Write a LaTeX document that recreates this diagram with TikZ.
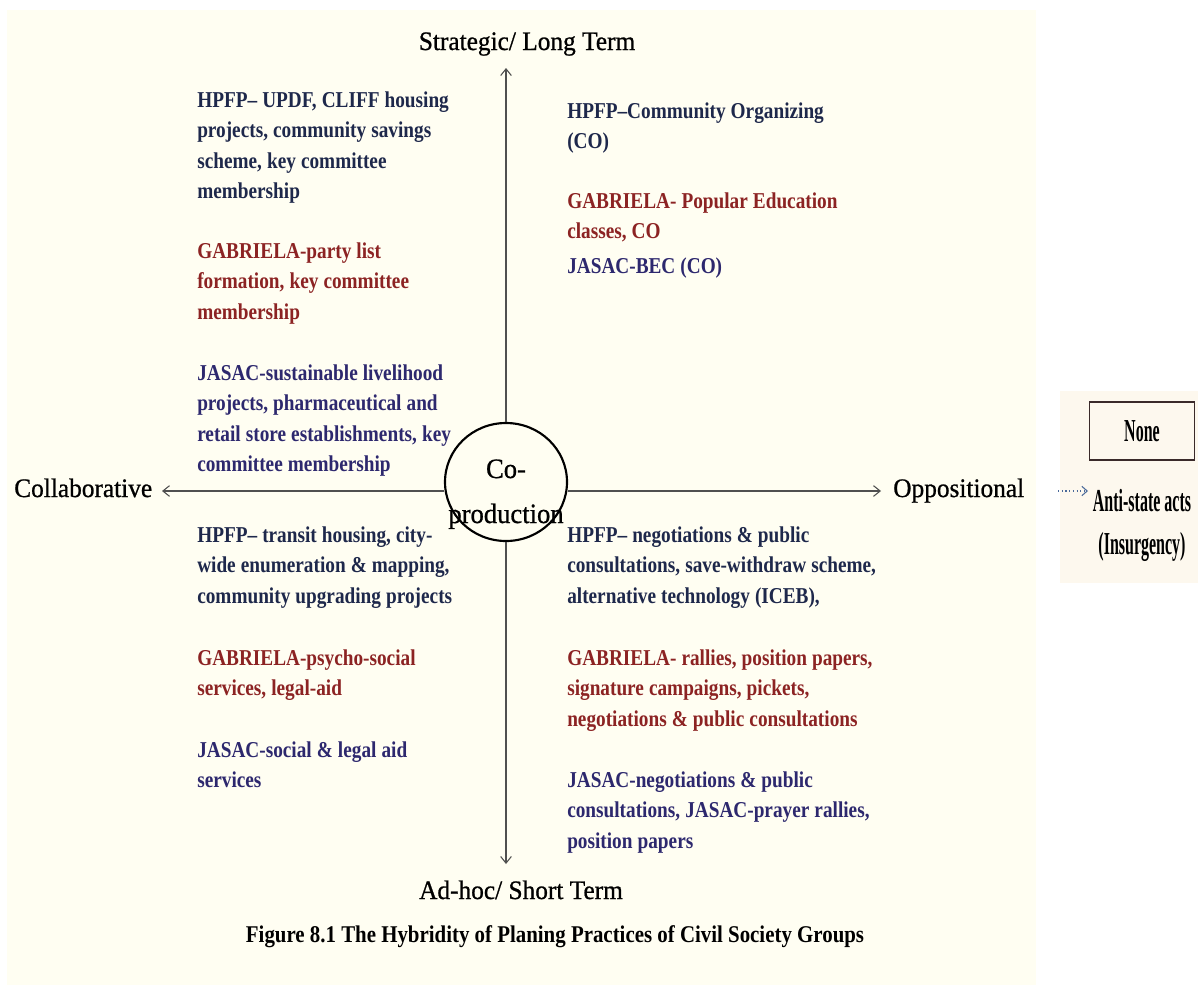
\documentclass[tikz,border=0pt]{standalone}
\usepackage{fontspec}
\setmainfont{Liberation Serif}
\newfontfamily\bodyfont[FakeStretch=0.85]{Liberation Serif}
\newfontfamily\axisfont[FakeStretch=0.95,FakeBold=0.8]{Liberation Serif}
\newfontfamily\capfont[FakeStretch=0.87]{Liberation Serif}
\newfontfamily\narrowfont[FakeStretch=0.5]{Liberation Serif}
\DeclareRobustCommand\tightsp{\spaceskip=3.8pt plus 1pt\relax\xspaceskip=4.2pt\relax}
\DeclareRobustCommand\narrowsp{\spaceskip=3pt\relax\xspaceskip=3pt\relax}
\usetikzlibrary{shapes.geometric,arrows.meta}
\definecolor{cream}{HTML}{FFFEF2}
\definecolor{creamb}{HTML}{FDF8EE}
\definecolor{hpfp}{HTML}{1E284B}
\definecolor{gab}{HTML}{8C2323}
\definecolor{jas}{HTML}{2D286E}
\definecolor{axisgray}{HTML}{505050}
\definecolor{dotblue}{HTML}{4A6A9A}
\definecolor{boxline}{HTML}{3A2A2A}
\begin{document}
\begin{tikzpicture}[x=0.75pt,y=-0.75pt,
  blk/.style={anchor=base west, inner sep=0pt, align=flush left, text width=260pt,
    font=\bodyfont\bfseries\fontsize{17}{22.9}\selectfont\tightsp},
  axlbl/.style={inner sep=0pt, font=\axisfont\fontsize{20}{24}\selectfont},
  axisline/.style={draw=axisgray, line width=0.8pt, -{Straight Barb[length=5pt,width=8pt]}},
  narrowtxt/.style={font=\narrowfont\bfseries\fontsize{24}{32.25}\selectfont\narrowsp}]
\useasboundingbox (0,0) rectangle (1198,985);
\fill[cream] (7,10) rectangle (1036,985);
\fill[creamb] (1060,391) rectangle (1198,583);

% centre
\node[ellipse, draw=black, line width=1.6pt, minimum width=91.5pt, minimum height=88.5pt, inner sep=0pt] (cop) at (506,482) {};
\node[font=\axisfont\fontsize{21}{33.75}\selectfont, align=flush center, text width=100pt, anchor=base, inner sep=0pt] (coptext) at (506,478) {Co-\\production};

% axes
\coordinate (topend) at (506,68);
\coordinate (botend) at (506,864);
\coordinate (leftend) at (162,491);
\coordinate (rightend) at (881,491);
\draw[axisline] (cop.north) -- (topend);
\draw[axisline] (cop.south) -- (botend);
\draw[axisline] (cop.west |- leftend) -- (leftend);
\draw[axisline] (cop.east |- rightend) -- (rightend);

% axis labels
\node[axlbl, anchor=base] (strat) at (527,50) {Strategic/ Long Term};
\node[axlbl, anchor=base] (adhoc) at (521,899) {Ad-hoc/ Short Term};
\node[axlbl, anchor=base west] (collab) at (14,497) {Collaborative};
\node[axlbl, anchor=base west] (oppos) at (893,497) {Oppositional};

% top left
\node[blk, text=hpfp] (tlh) at (197,107) {HPFP– UPDF, CLIFF housing\\projects, community savings\\scheme, key committee\\membership};
\node[blk, text=gab] (tlg) at (197,258) {GABRIELA-party list\\formation, key committee\\membership};
\node[blk, text=jas] (tlj) at (197,380) {JASAC-sustainable livelihood\\projects, pharmaceutical and\\retail store establishments, key\\committee membership};

% top right
\node[blk, text=hpfp] (trh) at (567,118) {HPFP–Community Organizing\\(CO)};
\node[blk, text=gab] (trg) at (567,208) {GABRIELA- Popular Education\\classes, CO};
\node[blk, text=jas] (trj) at (567,273) {JASAC-BEC (CO)};

% bottom left
\node[blk, text=hpfp] (blh) at (197,542) {HPFP– transit housing, city-\\wide enumeration \& mapping,\\community upgrading projects};
\node[blk, text=gab] (blg) at (197,665) {GABRIELA-psycho-social\\services, legal-aid};
\node[blk, text=jas] (blj) at (197,757) {JASAC-social \& legal aid\\services};

% bottom right
\node[blk, text=hpfp] (brh) at (567,542) {HPFP– negotiations \& public\\consultations, save-withdraw scheme,\\alternative technology (ICEB),};
\node[blk, text=gab] (brg) at (567,665) {GABRIELA- rallies, position papers,\\signature campaigns, pickets,\\negotiations \& public consultations};
\node[blk, text=jas] (brj) at (567,787) {JASAC-negotiations \& public\\consultations, JASAC-prayer rallies,\\position papers};

% caption
\node[font=\capfont\bfseries\fontsize{18}{22}\selectfont, anchor=base, inner sep=0pt] (cap) at (555,942) {Figure 8.1 The Hybridity of Planing Practices of Civil Society Groups};

% right panel
\node[draw=boxline, line width=0.8pt, minimum width=78.75pt, minimum height=43.5pt, inner sep=0pt, narrowtxt] (none) at (1142,431) {None};
\coordinate (dotstart) at (1058,491);
\coordinate (dotend) at (1088,491);
\draw[dotblue, dotted, line width=0.8pt, -{Straight Barb[length=4pt,width=7pt]}] (dotstart) -- (dotend);
\node[narrowtxt, align=flush center, text width=95pt, anchor=base, inner sep=0pt] (anti) at (1142,511) {Anti-state acts\\(Insurgency)};
\end{tikzpicture}
\end{document}
